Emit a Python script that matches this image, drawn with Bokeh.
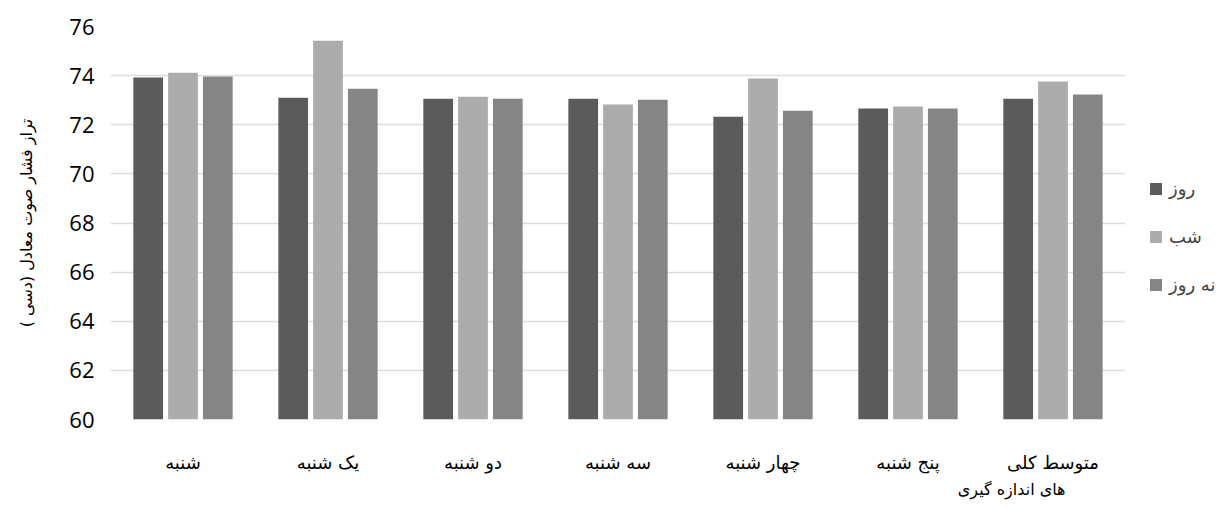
from bokeh.plotting import figure
from bokeh.models import ColumnDataSource, FactorRange, Legend, LegendItem, Title, Range1d
from bokeh.transform import dodge
from bokeh.embed import file_html
from bokeh.resources import INLINE

days = ["شنبه", "یک شنبه", "دو شنبه", "سه شنبه", "چهار شنبه", "پنج شنبه", "متوسط کلی"]
rooz = [73.92, 73.10, 73.06, 73.06, 72.33, 72.66, 73.06]
shab = [74.12, 75.42, 73.14, 72.82, 73.88, 72.74, 73.76]
shabanerooz = [73.96, 73.47, 73.06, 73.02, 72.57, 72.66, 73.23]
series_names = ["روز", "شب", "نه روز"]
y_ticks = [60, 62, 64, 66, 68, 70, 72, 74, 76]
y_title = "تراز فشار صوت معادل (دسی )"
x_title = "های اندازه گیری"

colors = ["#5b5b5b", "#acacac", "#858585"]

src = ColumnDataSource(dict(day=days, a=rooz, b=shab, c=shabanerooz))

p = figure(x_range=FactorRange(*days), y_range=Range1d(60, 76),
           frame_width=1015, frame_height=393,
           min_border_left=110, min_border_right=98, min_border_top=26, min_border_bottom=88,
           output_backend="svg", toolbar_location=None, background_fill_color="white",
           border_fill_color="white", outline_line_color=None)

renderers = []
for col, off, c in zip(["a", "b", "c"], [-0.24, 0.0, 0.24], colors):
    r = p.vbar(x=dodge("day", off, range=p.x_range), top=col, bottom=60, width=0.205,
               source=src, fill_color=c, line_color=None)
    renderers.append(r)

p.xgrid.grid_line_color = None
p.ygrid.grid_line_color = "#d9dde6"
p.ygrid.grid_line_width = 1.6
p.yaxis.ticker = y_ticks

for ax in (p.xaxis[0], p.yaxis[0]):
    ax.axis_line_color = None
    ax.major_tick_line_color = None
    ax.minor_tick_line_color = None
    ax.major_tick_out = 0
    ax.major_tick_in = 0

p.yaxis.major_label_text_font = "Open Sans"
p.yaxis.major_label_text_font_size = "22px"
p.yaxis.major_label_text_color = "#000000"
p.yaxis.major_label_standoff = 16
p.yaxis.axis_label = y_title
p.yaxis.axis_label_text_font = "DejaVu Sans"
p.yaxis.axis_label_text_font_style = "normal"
p.yaxis.axis_label_text_font_size = "16px"
p.yaxis.axis_label_text_color = "#000000"
p.yaxis.axis_label_standoff = 30

p.xaxis.major_label_text_font = "DejaVu Sans"
p.xaxis.major_label_text_font_size = "18px"
p.xaxis.major_label_text_color = "#000000"
p.xaxis.major_label_standoff = 32

p.add_layout(Title(text=x_title, align="right", offset=60, standoff=4,
                   text_font="DejaVu Sans", text_font_size="16px",
                   text_font_style="normal", text_color="#000000"), "below")

legend = Legend(items=[LegendItem(label=n, renderers=[r]) for n, r in zip(series_names, renderers)],
                location=(23, 124), glyph_width=15, glyph_height=15, spacing=27,
                label_text_font="DejaVu Sans", label_text_font_size="18px",
                padding=0, margin=0, border_line_color=None, background_fill_alpha=0,
                label_standoff=6)
p.add_layout(legend, "right")

open("out.html", "w").write(file_html(p, INLINE))
